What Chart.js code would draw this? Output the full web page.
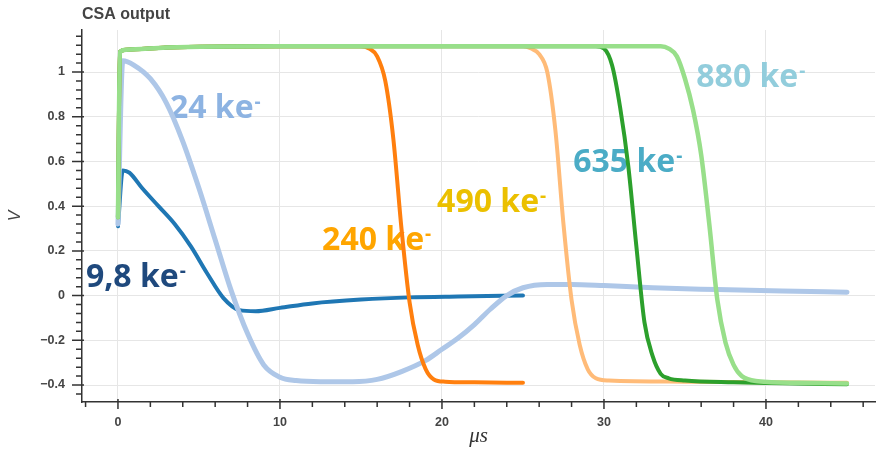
<!DOCTYPE html>
<html>
<head>
<meta charset="utf-8">
<title>CSA output</title>
<script src="https://cdn.jsdelivr.net/npm/chart.js@4.4.1/dist/chart.umd.min.js"></script>
<style>
  html, body { margin: 0; padding: 0; background: #fff; }
  #chart { display: block; }
</style>
</head>
<body>
<canvas id="chart" width="879" height="450"></canvas>
<script>
const xTicks = [0, 10, 20, 30, 40];
const xTickLabels = ['0', '10', '20', '30', '40'];
const yTicks = [-0.4, -0.2, 0, 0.2, 0.4, 0.6, 0.8, 1];
const yTickLabels = ['−0.4', '−0.2', '0', '0.2', '0.4', '0.6', '0.8', '1'];

// 9,8 ke-
const t98 = [0, 0.3, 0.7, 1.5, 2.5, 3.5, 4.5, 5.5, 6.5, 7.5, 8.5, 10, 12, 15, 18, 21, 25];
const v98 = [0.31, 0.56, 0.55, 0.48, 0.40, 0.32, 0.22, 0.10, -0.01, -0.065, -0.07, -0.055, -0.035, -0.018, -0.008, -0.004, 0.0];

// 24 ke-
const t24 = [0, 0.3, 1, 2, 3, 4, 5, 6, 7, 8, 9, 10, 11, 12.5, 14.5, 16, 17.5, 19, 20, 21, 22, 23, 24, 25, 26.5, 28, 30, 33, 37, 41, 45];
const v24 = [0.32, 1.05, 1.03, 0.97, 0.86, 0.69, 0.48, 0.25, 0.02, -0.17, -0.31, -0.365, -0.38, -0.385, -0.385, -0.375, -0.34, -0.29, -0.24, -0.19, -0.13, -0.06, 0.0, 0.035, 0.05, 0.05, 0.045, 0.035, 0.027, 0.02, 0.015];

// 240 ke-
const t240 = [0, 0.12, 0.5, 3, 10, 15, 15.5, 16, 16.5, 17, 17.5, 18, 18.5, 19, 19.5, 20.2, 22, 25];
const v240 = [0.35, 1.09, 1.10, 1.11, 1.115, 1.115, 1.105, 1.07, 0.96, 0.70, 0.30, -0.03, -0.22, -0.33, -0.375, -0.385, -0.388, -0.39];

// 490 ke-
const t490 = [0, 0.12, 0.5, 3, 10, 25, 25.5, 26, 26.5, 27, 27.5, 28, 28.5, 29, 29.5, 30.3, 35, 40, 45];
const v490 = [0.35, 1.09, 1.10, 1.11, 1.115, 1.115, 1.105, 1.08, 1.00, 0.74, 0.32, -0.02, -0.22, -0.33, -0.37, -0.38, -0.385, -0.388, -0.39];

// 635 ke-
const t635 = [0, 0.12, 0.5, 3, 10, 29.5, 30, 30.5, 31, 31.5, 32, 32.5, 33, 33.5, 34, 35, 38, 41, 45];
const v635 = [0.35, 1.09, 1.10, 1.11, 1.115, 1.115, 1.105, 1.03, 0.84, 0.58, 0.22, -0.12, -0.27, -0.35, -0.37, -0.38, -0.388, -0.392, -0.397];

// 880 ke-
const t880 = [0, 0.12, 0.5, 3, 10, 33.5, 34, 34.5, 35, 35.5, 36, 36.5, 37, 37.5, 38, 38.5, 39.5, 42, 45];
const v880 = [0.35, 1.09, 1.10, 1.11, 1.115, 1.115, 1.105, 1.07, 0.97, 0.83, 0.63, 0.32, -0.02, -0.21, -0.31, -0.36, -0.383, -0.39, -0.393];

const seriesT = [t98, t24, t240, t490, t635, t880];
const seriesV = [v98, v24, v240, v490, v635, v880];
const seriesColors = ['#1f77b4', '#aec7e8', '#ff7f0e', '#ffbb78', '#2ca02c', '#98df8a'];
const seriesWidths = [4, 5, 4, 4, 4, 4.5];

const labelTexts = ['9,8 ke', '24 ke', '240 ke', '490 ke', '635 ke', '880 ke'];
const labelX = [-1.98, 3.21, 12.6, 19.7, 28.1, 35.7];
const labelY = [0.04, 0.795, 0.205, 0.375, 0.554, 0.933];
const labelColors = ['#1f497d', '#8db3e2', '#ffa500', '#ebc000', '#4bacc6', '#92cddc'];

const datasets = seriesT.map((ts, i) => ({
    data: ts.map((t, j) => ({x: t, y: seriesV[i][j]})),
    borderColor: seriesColors[i],
    borderWidth: seriesWidths[i],
    borderCapStyle: 'round',
    borderJoinStyle: 'round',
    pointRadius: 0,
    cubicInterpolationMode: 'monotone',
    fill: false,
    order: seriesT.length - i
}));

const annotations = {
    id: 'annotations',
    beforeDatasetsDraw(chart) {
        const {ctx, scales: {x, y}} = chart;
        ctx.save();
        ctx.textAlign = 'left';
        ctx.textBaseline = 'alphabetic';
        for (let i = 0; i < labelTexts.length; i++) {
            const px = x.getPixelForValue(labelX[i]);
            const py = y.getPixelForValue(labelY[i]);
            ctx.fillStyle = labelColors[i];
            ctx.font = 'bold 32px "Open Sans"';
            ctx.fillText(labelTexts[i], px, py);
            const w = ctx.measureText(labelTexts[i]).width;
            ctx.font = 'bold 19px "Open Sans"';
            ctx.fillText('-', px + w + 1, py - 10);
        }
        ctx.restore();
    }
};

const axisTicks = {
    id: 'axisTicks',
    afterDraw(chart) {
        const {ctx, chartArea: a, scales: {x, y}} = chart;
        ctx.save();
        ctx.strokeStyle = '#333';
        ctx.lineWidth = 1.5;
        ctx.beginPath();
        for (let i = -1; i <= 23; i++) {
            const px = x.getPixelForValue(i * 2);
            const major = i % 5 === 0;
            ctx.moveTo(px, a.bottom - (major ? 3 : 0));
            ctx.lineTo(px, a.bottom + (major ? 7 : 5));
        }
        for (let i = -11; i <= 29; i++) {
            const py = y.getPixelForValue(i * 0.04);
            const major = i % 5 === 0;
            ctx.moveTo(a.left + (major ? 2 : 0), py);
            ctx.lineTo(a.left - (major ? 10 : 6), py);
        }
        ctx.stroke();

        ctx.fillStyle = '#444';
        ctx.font = 'bold 16px "Liberation Sans"';
        ctx.textAlign = 'left';
        ctx.textBaseline = 'alphabetic';
        ctx.fillText('CSA output', a.left, 18.5);
        ctx.restore();
    }
};

const tickFont = {family: '"Liberation Sans", Arial, sans-serif', size: 12.5, weight: 'bold'};

new Chart(document.getElementById('chart'), {
    type: 'line',
    data: {datasets},
    options: {
        responsive: false,
        animation: false,
        layout: {padding: {top: 30, right: 4, bottom: 0, left: 0}},
        plugins: {
            legend: {display: false},
            tooltip: {enabled: false},
            title: {display: false}
        },
        scales: {
            x: {
                type: 'linear',
                min: -2.22,
                max: 46.73,
                afterBuildTicks: s => { s.ticks = xTicks.map(v => ({value: v})); },
                afterFit: s => { s.height = 48; },
                grid: {color: '#e6e6e6', lineWidth: 1, drawTicks: false},
                border: {display: true, color: '#333', width: 1.5},
                ticks: {
                    padding: 13, color: '#444', font: tickFont,
                    maxRotation: 0, autoSkip: false,
                    callback: (v, i) => xTickLabels[i]
                },
                title: {
                    display: true, text: 'μs', color: '#333',
                    font: {family: '"Liberation Serif", serif', size: 21, style: 'italic', lineHeight: 1},
                    padding: {top: 0, bottom: 3}
                }
            },
            y: {
                type: 'linear',
                min: -0.476,
                max: 1.188,
                afterBuildTicks: s => { s.ticks = yTicks.map(v => ({value: v})); },
                afterFit: s => { s.width = 82; },
                grid: {color: '#e6e6e6', lineWidth: 1, drawTicks: false},
                border: {display: true, color: '#333', width: 1.5},
                ticks: {
                    padding: 17, color: '#444', font: tickFont,
                    autoSkip: false,
                    callback: (v, i) => yTickLabels[i]
                },
                title: {
                    display: true, text: 'V', color: '#444',
                    font: {family: '"Liberation Sans", sans-serif', size: 16, style: 'italic', lineHeight: 1.2},
                    padding: {top: 6, bottom: 0}
                }
            }
        }
    },
    plugins: [annotations, axisTicks]
});
</script>
</body>
</html>
